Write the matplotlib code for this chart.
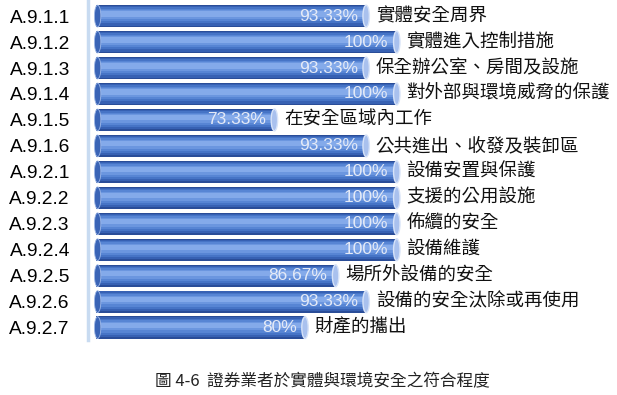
import matplotlib
matplotlib.use("Agg")
import matplotlib.pyplot as plt
from matplotlib.patches import Ellipse
import numpy as np

plt.rcParams['font.family'] = ['Noto Sans CJK TC', 'DejaVu Sans']

codes = ["A.9.1.1", "A.9.1.2", "A.9.1.3", "A.9.1.4", "A.9.1.5", "A.9.1.6",
         "A.9.2.1", "A.9.2.2", "A.9.2.3", "A.9.2.4", "A.9.2.5", "A.9.2.6", "A.9.2.7"]
names = ["實體安全周界", "實體進入控制措施", "保全辦公室、房間及設施", "對外部與環境威脅的保護",
         "在安全區域內工作", "公共進出、收發及裝卸區", "設備安置與保護", "支援的公用設施",
         "佈纜的安全", "設備維護", "場所外設備的安全", "設備的安全汰除或再使用", "財產的攜出"]
values = [93.33, 100, 93.33, 100, 73.33, 93.33, 100, 100, 100, 100, 86.67, 93.33, 80]
value_labels = ["93.33%", "100%", "93.33%", "100%", "73.33%", "93.33%", "100%",
                "100%", "100%", "100%", "86.67%", "93.33%", "80%"]
caption = "圖 4-6  證券業者於實體與環境安全之符合程度"

base = 34.5
fig = plt.figure(figsize=(6.17, 3.95), dpi=100)
ax = fig.add_axes([0.1426, 0.139, 0.8574, 0.861])

y = np.arange(len(values))
vals = np.array(values)

# fake cylinder shading: stacked bars, dark edges to light centre
layers = [(0.86, "#2a4d98"), (0.76, "#3761b3"), (0.62, "#4674c6"),
          (0.48, "#5785d4"), (0.34, "#6b96df"), (0.20, "#84aaea")]
for h, c in layers:
    ax.barh(y - (0.86 - h) * 0.12, vals - base, left=base, height=h, color=c, linewidth=0)

# end caps
for yi, v in zip(y, vals):
    ax.add_patch(Ellipse((v, yi), 1.4, 0.84, facecolor="#a9c1ee", edgecolor="#d7e3f8", lw=1.0, zorder=3))
    ax.add_patch(Ellipse((base + 0.3, yi), 1.4, 0.84, facecolor="#3a64b6", edgecolor="#9fb8e6", lw=0.6, zorder=3))

for yi, v, lab, nm in zip(y, vals, value_labels, names):
    ax.text(v - 1.8, yi, lab, ha="right", va="center", fontsize=12.5,
            family=["Liberation Sans", "DejaVu Sans"], color="#e4eaf7", zorder=4)
    ax.text(v + 2.1, yi, nm, ha="left", va="center", fontsize=13.3, color="#111111", zorder=4)

ax.set_xlim(base - 1.8, 148)
ax.set_ylim(12.48, -0.62)
ax.set_yticks(y)
ax.set_yticklabels(codes, fontsize=13.8, family=["Liberation Sans", "DejaVu Sans"])
ax.tick_params(axis="y", length=0, pad=13)
ax.set_xticks([])
for s in ["top", "right", "bottom"]:
    ax.spines[s].set_visible(False)
ax.spines["left"].set_color("#c8dbf1")
ax.spines["left"].set_linewidth(2.5)

fig.text(0.522, 0.033, caption, ha="center", va="center", fontsize=12, color="#222222")

fig.savefig("out.png", dpi=100)
